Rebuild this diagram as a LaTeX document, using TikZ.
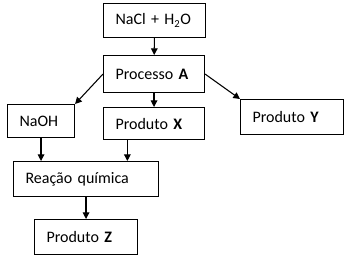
\documentclass[tikz,border=0pt]{standalone}
\usepackage{fontspec}
\setmainfont{Carlito}
\usetikzlibrary{arrows.meta}

\begin{document}
\begin{tikzpicture}[x=0.75pt, y=-0.75pt, >={Triangle[length=5pt,width=5pt]}, font=\fontsize{12}{14}\selectfont]

\tikzstyle{stage}=[draw, line width=0.8pt, anchor=north west, inner xsep=9pt, align=left]
\tikzstyle{trans}=[->, line width=0.8pt]

\useasboundingbox (0,0) rectangle (344,257);

\node[stage, text width=58.5pt, minimum height=25.5pt] (src) at (103,3) {NaCl + H\textsubscript{2}O};
\node[stage, text width=57.75pt, minimum height=27.75pt] (proc) at (103,55) {Processo \textbf{A}};
\node[stage, text width=32.25pt, minimum height=24.75pt] (naoh) at (7,104) {NaOH};
\node[stage, text width=57.75pt, minimum height=24pt] (prodx) at (103,107) {Produto \textbf{X}};
\node[stage, text width=59.25pt, minimum height=26.25pt] (prody) at (240,99) {Produto \textbf{Y}};
\node[stage, text width=90.75pt, minimum height=26.25pt] (reac) at (13,161) {Reação química};
\node[stage, text width=59.25pt, minimum height=26.25pt] (prodz) at (34,219) {Produto \textbf{Z}};

\coordinate (xs) at ([xshift=-20pt]prodx.south);

\draw[trans] (src) -- (proc);
\draw[trans] (proc) -- (prodx);
\draw[trans] (proc.west) -- (naoh.north east);
\draw[trans] (proc.east) -- (prody.north west);
\draw[trans] (naoh.south) -- (naoh.south |- reac.north);
\draw[trans] (xs) -- (xs |- reac.north);
\draw[trans] (reac) -- (prodz);

\end{tikzpicture}
\end{document}
